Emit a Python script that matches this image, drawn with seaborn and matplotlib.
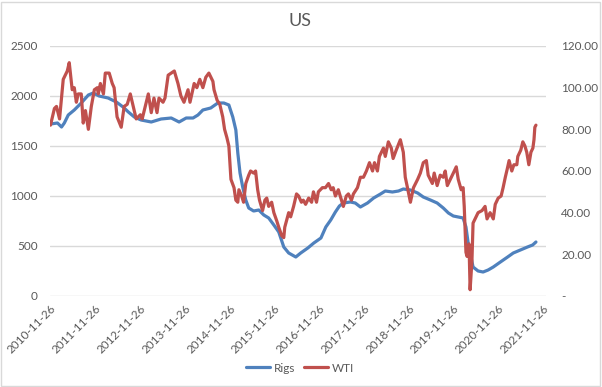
import matplotlib
matplotlib.use("Agg")
import matplotlib.pyplot as plt
import matplotlib.dates as mdates
from matplotlib.lines import Line2D
from matplotlib.patches import Rectangle
import seaborn as sns
import pandas as pd

title = "US"

rigs_dates = [
    "2010-11-26", "2011-01-22", "2011-02-24", "2011-03-19", "2011-04-20", "2011-06-08",
    "2011-08-04", "2011-10-01", "2011-11-10", "2011-12-28", "2012-03-10", "2012-05-16",
    "2012-07-10", "2012-08-22", "2012-10-10", "2012-12-04", "2013-02-25", "2013-05-16",
    "2013-08-07", "2013-10-10", "2013-12-07", "2014-02-01", "2014-03-13", "2014-04-22",
    "2014-06-25", "2014-08-22", "2014-10-10", "2014-11-20", "2014-12-22", "2015-01-16",
    "2015-02-01", "2015-02-19", "2015-03-13", "2015-04-07", "2015-05-01", "2015-06-10",
    "2015-07-22", "2015-09-01", "2015-10-11", "2015-11-22", "2016-01-01", "2016-02-11",
    "2016-03-22", "2016-05-19", "2016-06-28", "2016-08-25", "2016-10-13", "2016-12-10",
    "2017-01-19", "2017-02-28", "2017-04-07", "2017-05-10", "2017-06-11", "2017-08-07",
    "2017-09-16", "2017-10-28", "2017-12-25", "2018-02-13", "2018-04-10", "2018-05-19",
    "2018-07-16", "2018-09-04", "2018-10-13", "2018-12-10", "2019-02-07", "2019-03-25",
    "2019-05-22", "2019-07-16", "2019-09-04", "2019-10-16", "2019-11-25", "2020-01-04",
    "2020-02-13", "2020-03-07", "2020-03-25", "2020-04-19", "2020-05-04", "2020-06-14",
    "2020-07-25", "2020-09-04", "2020-10-16", "2020-12-13", "2021-02-10", "2021-03-28",
    "2021-05-25", "2021-07-22", "2021-09-02", "2021-09-29",
]
rigs_values = [
    1720, 1730, 1690, 1730, 1810, 1860,
    1930, 2010, 2030, 2000, 1980, 1940,
    1890, 1840, 1790, 1760, 1740, 1770,
    1780, 1740, 1780, 1780, 1810, 1860,
    1880, 1930, 1930, 1910, 1790, 1660,
    1430, 1230, 1090, 960, 880, 850,
    860, 810, 780, 710, 640, 490,
    430, 390, 430, 480, 530, 580,
    690, 760, 840, 900, 930, 940,
    930, 890, 930, 980, 1020, 1050,
    1040, 1050, 1070, 1060, 1030, 990,
    960, 930, 880, 830, 800, 790,
    780, 690, 530, 380, 290, 250,
    240, 260, 290, 340, 390, 430,
    460, 490, 510, 540,
]

wti_dates = [
    "2010-11-26", "2010-12-28", "2011-01-14", "2011-02-08", "2011-03-10", "2011-04-12",
    "2011-04-28", "2011-05-22", "2011-06-08", "2011-06-25", "2011-07-10", "2011-08-04",
    "2011-08-20", "2011-09-07", "2011-10-01", "2011-10-25", "2011-11-19", "2011-12-13",
    "2011-12-21", "2012-01-07", "2012-02-01", "2012-02-16", "2012-03-19", "2012-04-13",
    "2012-04-28", "2012-05-22", "2012-06-25", "2012-07-19", "2012-08-13", "2012-09-07",
    "2012-10-01", "2012-10-25", "2012-11-28", "2012-12-13", "2013-01-07", "2013-02-01",
    "2013-02-25", "2013-03-19", "2013-04-13", "2013-04-29", "2013-05-16", "2013-06-01",
    "2013-06-17", "2013-07-13", "2013-08-07", "2013-09-01", "2013-09-16", "2013-10-01",
    "2013-10-25", "2013-11-19", "2013-12-22", "2014-01-07", "2014-02-10", "2014-03-04",
    "2014-03-28", "2014-04-22", "2014-05-16", "2014-06-10", "2014-07-13", "2014-07-22",
    "2014-08-16", "2014-09-07", "2014-10-01", "2014-10-16", "2014-11-04", "2014-11-20",
    "2014-12-07", "2015-01-01", "2015-01-16", "2015-02-01", "2015-02-10", "2015-03-04",
    "2015-03-20", "2015-04-07", "2015-05-01", "2015-05-16", "2015-06-10", "2015-06-26",
    "2015-07-13", "2015-07-28", "2015-08-22", "2015-09-10", "2015-09-25", "2015-10-11",
    "2015-11-04", "2015-11-22", "2015-12-16", "2016-01-01", "2016-01-25", "2016-02-11",
    "2016-02-19", "2016-03-13", "2016-03-22", "2016-04-07", "2016-05-01", "2016-05-25",
    "2016-06-11", "2016-07-04", "2016-07-19", "2016-08-07", "2016-09-01", "2016-09-25",
    "2016-10-10", "2016-11-04", "2016-11-19", "2016-12-22", "2017-01-16", "2017-02-10",
    "2017-03-04", "2017-03-20", "2017-04-07", "2017-05-01", "2017-06-11", "2017-07-05",
    "2017-07-22", "2017-08-16", "2017-09-01", "2017-10-04", "2017-10-28", "2017-11-22",
    "2017-12-16", "2018-01-10", "2018-02-04", "2018-02-20", "2018-03-16", "2018-04-01",
    "2018-05-04", "2018-05-19", "2018-06-13", "2018-07-07", "2018-07-22", "2018-08-16",
    "2018-09-19", "2018-10-13", "2018-10-29", "2018-11-16", "2018-12-10", "2019-01-04",
    "2019-02-07", "2019-03-01", "2019-03-25", "2019-04-19", "2019-05-04", "2019-06-07",
    "2019-06-22", "2019-07-16", "2019-08-10", "2019-09-04", "2019-09-20", "2019-10-07",
    "2019-11-01", "2019-11-25", "2019-12-19", "2020-01-04", "2020-01-28", "2020-02-13",
    "2020-02-22", "2020-03-07", "2020-03-16", "2020-04-01", "2020-04-10", "2020-04-25",
    "2020-05-04", "2020-05-20", "2020-06-14", "2020-07-16", "2020-08-10", "2020-08-26",
    "2020-09-20", "2020-10-16", "2020-11-01", "2020-11-25", "2020-12-19", "2021-01-04",
    "2021-01-22", "2021-02-07", "2021-02-22", "2021-03-16", "2021-04-02", "2021-04-26",
    "2021-05-04", "2021-05-28", "2021-06-14", "2021-07-01", "2021-07-16", "2021-08-02",
    "2021-08-19", "2021-09-04", "2021-09-13", "2021-09-20", "2021-09-29",
]
wti_values = [
    82, 90, 91, 85, 104, 108,
    112, 99, 100, 93, 97, 97,
    83, 89, 80, 91, 99, 100,
    97, 102, 97, 107, 107, 102,
    100, 86, 81, 91, 92, 97,
    91, 85, 87, 85, 91, 97,
    88, 95, 88, 95, 94, 93,
    95, 106, 107, 108, 105, 102,
    96, 93, 99, 93, 102, 100,
    104, 100, 105, 107, 103, 99,
    94, 92, 86, 80, 76, 72,
    56, 52, 46, 45, 51, 48,
    45, 54, 58, 60, 59, 60,
    51, 46, 41, 46, 47, 43,
    45, 40, 36, 33, 29, 28,
    33, 38, 40, 38, 43, 49,
    48, 45, 46, 44, 47, 45,
    50, 45, 50, 52, 52, 54,
    51, 52, 48, 51, 43, 48,
    49, 46, 49, 52, 57, 57,
    60, 64, 60, 64, 60, 67,
    71, 67, 74, 71, 66, 70,
    75, 69, 57, 52, 45, 52,
    56, 59, 64, 65, 58, 54,
    59, 53, 58, 57, 60, 53,
    56, 59, 62, 56, 51, 52,
    43, 21, 19, 25, 3, 17,
    35, 37, 40, 41, 43, 37,
    40, 37, 44, 47, 48, 52,
    57, 61, 65, 60, 63, 63,
    67, 70, 74, 72, 69, 63,
    69, 71, 75, 81, 82,
]

tick_dates = [
    "2010-11-26", "2011-11-26", "2012-11-26", "2013-11-26", "2014-11-26", "2015-11-26",
    "2016-11-26", "2017-11-26", "2018-11-26", "2019-11-26", "2020-11-26", "2021-11-26",
]
left_ticks = [0, 500, 1000, 1500, 2000, 2500]
right_ticks = [0, 20, 40, 60, 80, 100, 120]
right_labels = ["-", "20.00", "40.00", "60.00", "80.00", "100.00", "120.00"]
series_names = ["Rigs", "WTI"]

sns.set_theme(style="white")
plt.rcParams["font.family"] = ["Lato", "DejaVu Sans"]

BLUE = "#4F81BD"
RED = "#C0504D"
TXT = "#595959"
GRID = "#D9D9D9"

W, H = 602, 387
fig = plt.figure(figsize=(W / 100, H / 100), dpi=100)
ax = fig.add_axes([50 / W, 1 - 296 / H, 496 / W, 250 / H])

rigs = pd.DataFrame({"date": pd.to_datetime(rigs_dates), "Rigs": rigs_values})
wti = pd.DataFrame({"date": pd.to_datetime(wti_dates), "WTI": wti_values})

sns.lineplot(data=rigs, x="date", y="Rigs", ax=ax, color=BLUE, linewidth=2.3, legend=False)
ax2 = ax.twinx()
sns.lineplot(data=wti, x="date", y="WTI", ax=ax2, color=RED, linewidth=2.3, legend=False)

ax.set_xlim(pd.Timestamp("2010-11-22"), pd.Timestamp("2021-12-20"))
ax.set_ylim(0, 2500)
ax2.set_ylim(0, 120)

ax.set_yticks(left_ticks)
ax.set_yticklabels([str(v) for v in left_ticks])
ax2.set_yticks(right_ticks)
ax2.set_yticklabels(right_labels)

ticks = pd.to_datetime(tick_dates)
ax.set_xticks(ticks)
ax.set_xticklabels([t.strftime("%Y-%m-%d") for t in ticks], rotation=45,
                   ha="right", rotation_mode="anchor")

for a in (ax, ax2):
    for s in a.spines.values():
        s.set_visible(False)
    a.set_xlabel("")
    a.set_ylabel("")
    a.tick_params(length=0, colors=TXT, labelsize=8.5)
ax.tick_params(axis="y", pad=9)
ax2.tick_params(axis="y", pad=11)
ax.tick_params(axis="x", pad=5)

ax.yaxis.grid(True, color=GRID, linewidth=1)
ax.xaxis.grid(False)
ax.set_axisbelow(True)

fig.text(300 / W, 1 - 21 / H, title, ha="center", va="center", fontsize=13, color=TXT)

handles = [Line2D([], [], color=BLUE, linewidth=2.3), Line2D([], [], color=RED, linewidth=2.3)]
leg = fig.legend(handles, series_names, loc="center", bbox_to_anchor=(300 / W, 1 - 368 / H),
                 ncol=2, frameon=False, fontsize=8.5, handlelength=2.0,
                 handletextpad=0.3, columnspacing=0.8)
for t in leg.get_texts():
    t.set_color(TXT)

fig.patches.append(Rectangle((0.5 / W, 1.5 / H), 599 / W, 384 / H, transform=fig.transFigure,
                             fill=False, edgecolor=GRID, linewidth=1))

fig.savefig("out.png", dpi=100, facecolor="white")
